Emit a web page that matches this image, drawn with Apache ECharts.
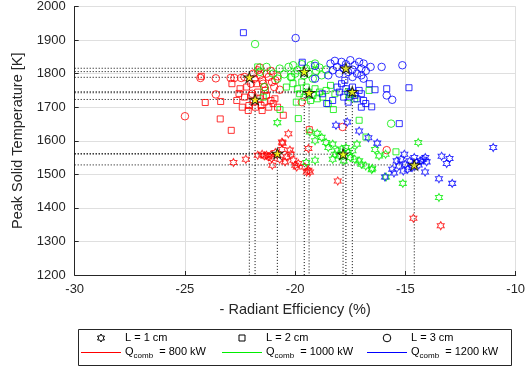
<!DOCTYPE html>
<html><head><meta charset="utf-8">
<script src="https://cdn.jsdelivr.net/npm/echarts@6/dist/echarts.min.js"></script>
<style>html,body{margin:0;padding:0;background:#fff}#c{width:529px;height:369px}</style>
</head><body><div id="c"></div>
<script>
// ---- data: [ -radiant efficiency (%), peak solid temperature (K) ]
const xTicks = [-30, -25, -20, -15, -10];
const yTicks = [1200, 1300, 1400, 1500, 1600, 1700, 1800, 1900, 2000];

// Q = 800 kW (red)
const q800_L1 = [[-22.8,1535],[-22.24,1545],[-21.7,1557],[-21.5,1560],[-21.4,1555],[-21.3,1557],[-21.2,1552],[-21.1,1558],[-21.07,1547],[-21.04,1527],[-20.9,1565],[-20.6,1574],[-20.57,1593],[-20.31,1621],[-20.24,1572],[-20.6,1596],[-20.39,1552],[-20.46,1537],[-20.08,1542],[-20.0,1527],[-19.86,1532],[-19.93,1522],[-19.56,1522],[-19.4,1512],[-19.33,1507],[-19.48,1507],[-19.4,1577],[-18.07,1480],[-14.64,1369],[-13.4,1347],[-20.7,1545],[-20.2,1560]];
const q800_L2 = [[-24.26,1792],[-24.08,1714],[-23.38,1717],[-23.4,1665],[-22.9,1631],[-22.87,1770],[-22.65,1720],[-22.5,1755],[-22.55,1741],[-22.4,1700],[-22.13,1690],[-22.3,1730],[-22.2,1760],[-22.0,1735],[-21.9,1715],[-21.8,1700],[-21.7,1745],[-21.6,1725],[-21.55,1705],[-21.4,1715],[-21.3,1735],[-21.2,1700],[-21.1,1720],[-21.0,1711],[-20.92,1725],[-20.54,1676],[-19.36,1633],[-21.75,1770],[-21.5,1690],[-22.1,1705],[-21.35,1750],[-20.8,1700]];
const q800_L3 = [[-25.0,1673],[-24.3,1787],[-23.6,1786],[-23.6,1738],[-22.93,1787],[-22.76,1787],[-22.45,1787],[-22.3,1790],[-21.9,1800],[-21.85,1785],[-21.7,1810],[-21.6,1795],[-21.5,1780],[-21.45,1770],[-21.3,1800],[-21.2,1790],[-21.1,1808],[-21.05,1775],[-20.95,1760],[-20.8,1792],[-20.7,1752],[-21.4,1760],[-21.6,1818],[-20.9,1780],[-19.7,1715],[-17.85,1641],[-15.85,1572],[-22.0,1770],[-21.95,1740]];

// Q = 1000 kW (green)
const q1000_L1 = [[-20.81,1654],[-19.33,1626],[-19.0,1622],[-18.8,1610],[-19.1,1600],[-18.6,1595],[-18.5,1580],[-18.3,1590],[-18.1,1570],[-18.0,1555],[-17.9,1575],[-17.7,1580],[-17.6,1565],[-17.5,1550],[-17.4,1570],[-17.3,1545],[-17.1,1540],[-17.0,1530],[-16.8,1525],[-16.5,1518],[-18.3,1545],[-18.2,1560],[-17.8,1540],[-19.1,1542],[-19.5,1535],[-14.42,1595],[-15.12,1473],[-13.48,1431],[-15.88,1492],[-16.38,1574],[-16.53,1514],[-15.9,1560],[-16.2,1555],[-17.2,1590]];
const q1000_L2 = [[-21.7,1820],[-21.45,1730],[-20.16,1790],[-20.1,1770],[-19.9,1755],[-19.8,1740],[-19.7,1775],[-19.6,1730],[-19.5,1760],[-19.4,1745],[-19.3,1720],[-19.2,1735],[-19.1,1755],[-19.0,1725],[-18.9,1745],[-18.75,1730],[-18.6,1750],[-18.5,1710],[-20.69,1693],[-19.86,1666],[-18.27,1693],[-17.1,1661],[-16.79,1611],[-15.43,1567],[-16.65,1750],[-17.3,1725],[-17.5,1738],[-20.4,1760],[-19.95,1715],[-18.4,1765],[-18.2,1740]];
const q1000_L3 = [[-21.82,1888],[-21.6,1805],[-21.3,1820],[-21.0,1800],[-20.7,1815],[-20.5,1798],[-20.3,1820],[-20.09,1825],[-19.9,1810],[-19.7,1828],[-19.6,1795],[-19.5,1815],[-19.3,1825],[-19.1,1830],[-19.05,1808],[-18.9,1818],[-18.8,1795],[-19.2,1785],[-19.4,1800],[-20.2,1790],[-20.0,1800],[-18.6,1812],[-17.55,1730],[-17.6,1745],[-15.65,1651],[-21.4,1760],[-20.8,1785]];

// Q = 1200 kW (blue)
const q1200_L1 = [[-18.15,1646],[-17.64,1656],[-17.1,1629],[-16.68,1609],[-16.28,1593],[-15.05,1560],[-15.4,1540],[-15.3,1525],[-15.2,1545],[-15.0,1530],[-14.9,1515],[-14.8,1540],[-14.7,1520],[-14.5,1535],[-14.4,1528],[-14.3,1540],[-14.2,1545],[-14.1,1550],[-14.04,1537],[-14.11,1507],[-15.52,1504],[-15.93,1492],[-15.6,1515],[-13.36,1554],[-13.0,1547],[-13.13,1532],[-13.48,1487],[-12.88,1473],[-11.02,1580],[-15.1,1510],[-14.6,1550]];
const q1200_L2 = [[-22.35,1922],[-19.68,1834],[-18.77,1740],[-18.57,1711],[-18.1,1760],[-18.0,1745],[-17.9,1770],[-17.8,1730],[-17.7,1755],[-17.6,1715],[-17.5,1745],[-17.4,1760],[-17.3,1735],[-17.2,1725],[-17.1,1750],[-17.0,1740],[-16.9,1720],[-16.8,1711],[-16.64,1770],[-16.53,1701],[-16.38,1752],[-15.85,1755],[-14.84,1758],[-15.28,1651],[-17.0,1700],[-18.3,1720],[-17.75,1780]];
const q1200_L3 = [[-19.98,1906],[-19.1,1785],[-19.1,1823],[-18.4,1830],[-18.3,1810],[-18.2,1838],[-18.1,1820],[-18.0,1800],[-17.9,1835],[-17.8,1815],[-17.7,1828],[-17.6,1805],[-17.5,1840],[-17.4,1812],[-17.3,1825],[-17.2,1800],[-17.1,1835],[-17.0,1815],[-16.9,1830],[-16.8,1808],[-16.58,1820],[-16.08,1820],[-15.14,1825],[-15.85,1735],[-15.6,1722],[-17.4,1790],[-18.5,1795],[-17.0,1795],[-16.9,1785]];

// group means (yellow stars) with dotted guide lines
const meanPoints = [[-22.08,1789],[-21.82,1723],[-20.81,1562],[-19.59,1806],[-19.37,1743],[-17.83,1560],[-17.70,1816],[-17.41,1746],[-14.60,1528]];

const legendShapes = ['L = 1 cm', 'L = 2 cm', 'L = 3 cm'];
const legendFlows = ['800', '1000', '1200'];

const HEX = 'path://M100,0 L128.9,50 L186.6,50 L157.7,100 L186.6,150 L128.9,150 L100,200 L71.1,150 L13.4,150 L42.3,100 L13.4,50 L71.1,50 Z';
const STAR = 'path://M100,0 L122.45,69.1 L195.1,69.1 L136.3,111.8 L158.8,180.9 L100,138.2 L41.2,180.9 L63.7,111.8 L4.9,69.1 L77.55,69.1 Z';
const FONT = '"Liberation Sans", Arial, Helvetica, sans-serif';
const TXT = '#262626';

const shapes = [
  {symbol: HEX, size: [7, 8]},
  {symbol: 'rect', size: 6},
  {symbol: 'circle', size: 7.5}
];
const colors = ['#ff0000', '#00ee00', '#0000ff'];
const groups = [[q800_L1, q800_L2, q800_L3], [q1000_L1, q1000_L2, q1000_L3], [q1200_L1, q1200_L2, q1200_L3]];

const series = [];
meanPoints.forEach(p => {
  series.push({type: 'line', data: [[-30, p[1]], [p[0], p[1]], [p[0], 1200]], symbol: 'none', silent: true,
    lineStyle: {color: '#000', width: 1, type: [1, 2]}, z: 1});
});
groups.forEach((g, ci) => {
  g.forEach((d, si) => {
    series.push({type: 'scatter', data: d, symbol: shapes[si].symbol, symbolSize: shapes[si].size,
      itemStyle: {color: 'rgba(0,0,0,0)', borderColor: colors[ci], borderWidth: 1}, z: 2 + ci});
  });
});
series.push({type: 'scatter', data: meanPoints, symbol: STAR, symbolSize: [11, 10.5],
  itemStyle: {color: '#ffff00', borderColor: '#000', borderWidth: 1}, z: 10});

// ---- legend box (drawn with graphic elements)
const colX = [81, 222, 367];
const row1 = 338, row2 = 352;
function hexPoints(cx, cy, r) {
  const pts = [];
  for (let k = 0; k < 12; k++) {
    const a = -Math.PI / 2 + k * Math.PI / 6;
    const rr = k % 2 === 0 ? r : r / Math.sqrt(3);
    pts.push([cx + rr * Math.cos(a), cy + rr * Math.sin(a)]);
  }
  return pts;
}
const g = [{type: 'rect', shape: {x: 78.5, y: 329.5, width: 433, height: 36}, style: {fill: '#fff', stroke: '#262626', lineWidth: 1}, z: 100}];
const sc = colX.map(x => x + 20);
g.push({type: 'polygon', shape: {points: hexPoints(sc[0], row1, 4)}, style: {fill: 'none', stroke: '#000', lineWidth: 1}, z: 101});
g.push({type: 'rect', shape: {x: sc[1] - 3, y: row1 - 3, width: 6, height: 6}, style: {fill: 'none', stroke: '#000', lineWidth: 1}, z: 101});
g.push({type: 'circle', shape: {cx: sc[2], cy: row1, r: 3.8}, style: {fill: 'none', stroke: '#000', lineWidth: 1}, z: 101});
legendShapes.forEach((n, i) => {
  g.push({type: 'text', x: colX[i] + 44, y: row1, style: {text: n, font: '11px ' + FONT, fill: '#000', verticalAlign: 'middle'}, z: 101});
});
legendFlows.forEach((n, i) => {
  g.push({type: 'line', shape: {x1: colX[i], y1: row2 + 0.5, x2: colX[i] + 40, y2: row2 + 0.5}, style: {stroke: colors[i], lineWidth: 1}, z: 101});
  g.push({type: 'text', x: colX[i] + 44, y: row2, style: {
    text: '{q|Q}{s|comb}{q|  = ' + n + ' kW}', verticalAlign: 'middle', fill: '#000',
    rich: {q: {fontSize: 11, fontFamily: FONT, fill: '#000'}, s: {fontSize: 8, fontFamily: FONT, fill: '#000', padding: [7, 0, 0, 0]}}
  }, z: 101});
});

const chart = echarts.init(document.getElementById('c'), null, {renderer: 'canvas'});
chart.setOption({
  animation: false,
  backgroundColor: '#fff',
  grid: {left: 74.7, right: 13.3, top: 6, bottom: 94, containLabel: false},
  xAxis: {
    type: 'value', min: xTicks[0], max: xTicks[xTicks.length - 1], interval: 5,
    name: '- Radiant Efficiency (%)', nameLocation: 'middle', nameGap: 27,
    nameTextStyle: {fontSize: 14.5, color: TXT, fontFamily: FONT},
    axisLine: {show: true, onZero: false, lineStyle: {color: TXT, width: 1}},
    axisTick: {show: true, inside: true, length: 4, lineStyle: {color: TXT}},
    axisLabel: {fontSize: 13, color: TXT, fontFamily: FONT, margin: 8, formatter: v => String(v)},
    splitLine: {show: true, lineStyle: {color: '#dfdfdf', width: 1}}
  },
  yAxis: {
    type: 'value', min: yTicks[0], max: yTicks[yTicks.length - 1], interval: 100,
    name: 'Peak Solid Temperature [K]', nameLocation: 'middle', nameGap: 39,
    nameTextStyle: {fontSize: 14.5, color: TXT, fontFamily: FONT},
    axisLine: {show: true, onZero: false, lineStyle: {color: TXT, width: 1}},
    axisTick: {show: true, inside: true, length: 4, lineStyle: {color: TXT}},
    axisLabel: {fontSize: 13, color: TXT, fontFamily: FONT, margin: 9, formatter: v => String(v)},
    splitLine: {show: true, lineStyle: {color: '#dfdfdf', width: 1}}
  },
  graphic: g,
  series: series
});
</script>
</body></html>
